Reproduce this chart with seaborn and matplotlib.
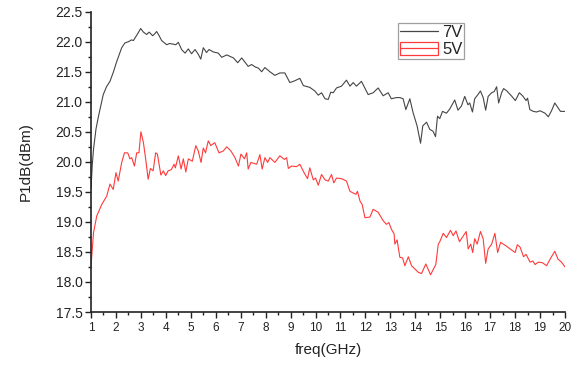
import numpy as np
import pandas as pd
import matplotlib
matplotlib.use("Agg")
import matplotlib.pyplot as plt
import seaborn as sns
from matplotlib.ticker import MultipleLocator
from matplotlib.patches import Patch
from matplotlib.lines import Line2D

# ---- data ----
freq_7v = [1.00, 1.05, 1.10, 1.20, 1.30, 1.49, 1.62, 1.76, 1.90, 2.03, 2.23, 2.36, 2.50, 2.62, 2.70,
           2.76, 2.88, 2.99, 3.10, 3.23, 3.33, 3.47, 3.55, 3.63, 3.73, 3.83, 4.03, 4.15, 4.29, 4.40,
           4.50, 4.63, 4.77, 4.90, 5.03, 5.17, 5.30, 5.40, 5.50, 5.63, 5.73, 5.90, 6.10, 6.24, 6.44,
           6.71, 6.88, 7.04, 7.17, 7.30, 7.44, 7.58, 7.71, 7.84, 7.97, 8.17, 8.37, 8.57, 8.77, 8.97,
           9.17, 9.37, 9.51, 9.77, 9.97, 10.11, 10.24, 10.38, 10.51, 10.61, 10.71, 10.84, 11.04, 11.24,
           11.38, 11.51, 11.64, 11.84, 12.11, 12.31, 12.51, 12.71, 12.91, 13.04, 13.24, 13.38, 13.51,
           13.62, 13.78, 13.91, 14.07, 14.21, 14.30, 14.45, 14.58, 14.71, 14.81, 14.89, 14.98, 15.09,
           15.25, 15.38, 15.58, 15.71, 15.85, 15.98, 16.11, 16.18, 16.29, 16.38, 16.51, 16.61, 16.72,
           16.82, 16.92, 17.06, 17.16, 17.26, 17.34, 17.46, 17.54, 17.67, 17.87, 18.01, 18.17, 18.30,
           18.44, 18.50, 18.59, 18.73, 18.86, 19.00, 19.20, 19.33, 19.46, 19.59, 19.72, 19.82, 20.00]
p1db_7v = [19.55, 19.95, 20.21, 20.55, 20.76, 21.12, 21.25, 21.34, 21.50, 21.67, 21.90, 21.98, 22.00, 22.03, 22.02,
           22.06, 22.14, 22.22, 22.16, 22.12, 22.16, 22.10, 22.13, 22.17, 22.10, 22.02, 21.95, 21.97, 21.96, 21.95,
           21.99, 21.87, 21.81, 21.88, 21.80, 21.87, 21.79, 21.71, 21.90, 21.82, 21.87, 21.83, 21.81, 21.74, 21.78,
           21.73, 21.65, 21.73, 21.66, 21.59, 21.62, 21.58, 21.56, 21.50, 21.57, 21.50, 21.44, 21.48, 21.48, 21.32,
           21.35, 21.39, 21.27, 21.24, 21.18, 21.11, 21.15, 21.05, 21.04, 21.16, 21.15, 21.23, 21.26, 21.36,
           21.26, 21.32, 21.26, 21.34, 21.12, 21.15, 21.23, 21.10, 21.15, 21.05, 21.07, 21.07, 21.05,
           20.87, 21.05, 20.82, 20.60, 20.31, 20.60, 20.66, 20.54, 20.51, 20.42, 20.76, 20.72, 20.84,
           20.81, 20.88, 21.03, 20.86, 20.93, 21.09, 20.95, 20.98, 20.83, 21.05, 21.12, 21.18, 21.07,
           20.86, 21.09, 21.15, 21.17, 21.25, 20.98, 21.15, 21.22, 21.18, 21.09, 21.02, 21.15, 21.10,
           21.02, 21.06, 20.87, 20.84, 20.83, 20.85, 20.81, 20.75, 20.85, 20.98, 20.90, 20.84, 20.84]

freq_5v = [1.00, 1.05, 1.10, 1.23, 1.43, 1.63, 1.76, 1.89, 2.00, 2.09, 2.23, 2.34, 2.47, 2.56, 2.63,
           2.74, 2.83, 2.92, 3.00, 3.10, 3.19, 3.29, 3.38, 3.49, 3.59, 3.66, 3.80, 3.90, 3.99, 4.09,
           4.22, 4.33, 4.38, 4.50, 4.61, 4.70, 4.80, 4.90, 5.06, 5.20, 5.30, 5.41, 5.50, 5.59, 5.70,
           5.80, 5.96, 6.13, 6.30, 6.44, 6.61, 6.77, 6.91, 7.01, 7.15, 7.24, 7.30, 7.41, 7.64, 7.77,
           7.86, 7.97, 8.08, 8.17, 8.37, 8.57, 8.75, 8.84, 8.91, 9.04, 9.24, 9.37, 9.54, 9.68, 9.77,
           9.91, 10.00, 10.11, 10.24, 10.38, 10.51, 10.64, 10.73, 10.84, 11.04, 11.24, 11.38, 11.51,
           11.62, 11.68, 11.78, 11.87, 11.98, 12.18, 12.31, 12.51, 12.71, 12.84, 12.94, 13.04, 13.15,
           13.18, 13.27, 13.38, 13.49, 13.58, 13.72, 13.85, 14.12, 14.25, 14.42, 14.61, 14.82, 14.92,
           14.98, 15.12, 15.25, 15.41, 15.52, 15.63, 15.77, 15.93, 16.04, 16.12, 16.22, 16.30, 16.38,
           16.48, 16.61, 16.72, 16.82, 16.92, 17.06, 17.19, 17.30, 17.42, 17.64, 17.80, 18.00, 18.09,
           18.20, 18.34, 18.44, 18.60, 18.71, 18.80, 18.93, 19.10, 19.26, 19.43, 19.59, 19.72, 19.86, 20.00]
p1db_5v = [18.27, 18.55, 18.82, 19.10, 19.29, 19.43, 19.63, 19.54, 19.82, 19.68, 19.99, 20.15, 20.15, 20.05, 20.07,
           19.93, 20.15, 20.15, 20.50, 20.32, 20.05, 19.71, 19.89, 19.85, 20.15, 20.13, 19.78, 19.85, 19.77, 19.85,
           19.87, 19.96, 19.90, 20.10, 19.88, 20.05, 19.83, 20.05, 20.01, 20.27, 20.18, 19.99, 20.23, 20.15, 20.35,
           20.27, 20.32, 20.15, 20.18, 20.25, 20.18, 20.07, 19.93, 20.13, 20.05, 20.15, 19.88, 19.99, 19.96, 20.12,
           19.88, 20.07, 19.99, 20.07, 19.99, 20.10, 20.04, 20.07, 19.89, 19.93, 19.92, 19.96, 19.82, 19.72, 19.90,
           19.70, 19.73, 19.61, 19.79, 19.70, 19.68, 19.79, 19.65, 19.73, 19.72, 19.68, 19.51, 19.48,
           19.46, 19.51, 19.35, 19.29, 19.07, 19.08, 19.21, 19.16, 19.02, 18.96, 18.99, 18.88, 18.80,
           18.63, 18.70, 18.41, 18.40, 18.27, 18.42, 18.27, 18.16, 18.14, 18.30, 18.12, 18.29, 18.63,
           18.67, 18.81, 18.74, 18.86, 18.77, 18.85, 18.67, 18.77, 18.84, 18.55, 18.63, 18.49, 18.72,
           18.63, 18.84, 18.72, 18.31, 18.55, 18.63, 18.81, 18.49, 18.66, 18.60, 18.55, 18.49, 18.62,
           18.58, 18.42, 18.46, 18.33, 18.35, 18.29, 18.33, 18.32, 18.27, 18.40, 18.51, 18.38, 18.33, 18.25]

x_ticks = list(range(1, 21))
y_ticks = [17.5, 18.0, 18.5, 19.0, 19.5, 20.0, 20.5, 21.0, 21.5, 22.0, 22.5]

df_7v = pd.DataFrame({"freq": freq_7v, "p1db": p1db_7v})
df_5v = pd.DataFrame({"freq": freq_5v, "p1db": p1db_5v})

sns.set_theme(style="white")
plt.rcParams['font.family'] = ['Liberation Sans', 'DejaVu Sans']

fig = plt.figure(figsize=(5.85, 3.65), dpi=100)
ax = fig.add_axes([0.1556, 0.1452, 0.8102, 0.8228])

c7 = '#454545'
c5 = '#ff3a3a'
txt = '#222222'
sns.lineplot(data=df_7v, x="freq", y="p1db", ax=ax, color=c7, lw=0.8,
             estimator=None, sort=False)
sns.lineplot(data=df_5v, x="freq", y="p1db", ax=ax, color=c5, lw=0.8,
             estimator=None, sort=False)

ax.set_xlim(1, 20)
ax.set_ylim(17.5, 22.5)
ax.set_xticks(x_ticks)
ax.set_yticks(y_ticks)
ax.set_yticklabels([f"{v:.1f}" for v in y_ticks])
ax.xaxis.set_minor_locator(MultipleLocator(0.5))
ax.yaxis.set_minor_locator(MultipleLocator(0.25))
ax.tick_params(which='major', direction='out', length=4, width=1, colors=txt,
               bottom=True, left=True)
ax.tick_params(which='minor', direction='out', length=2.5, width=1, colors=txt,
               bottom=True, left=True)
ax.tick_params(axis='x', which='major', labelsize=8.5, pad=3)
ax.tick_params(axis='y', which='major', labelsize=10, pad=2)

sns.despine(ax=ax)
for s in ['left', 'bottom']:
    ax.spines[s].set_color(txt)
    ax.spines[s].set_linewidth(1.2)

ax.set_xlabel("freq(GHz)", fontsize=11, color=txt, labelpad=7)
ax.set_ylabel("P1dB(dBm)", fontsize=11, color=txt, labelpad=16)

handles = [Line2D([0], [0], color=c7, lw=0.9),
           (Patch(facecolor='white', edgecolor=c5, lw=0.9), Line2D([0], [0], color=c5, lw=0.9))]
leg = ax.legend(handles, ["7V", "5V"], loc='upper left', bbox_to_anchor=(0.648, 0.963),
                fontsize=12, frameon=True, fancybox=False, borderpad=0.1,
                handlelength=2.3, handleheight=0.8, handletextpad=0.25, labelspacing=0.15,
                borderaxespad=0)
leg.get_frame().set_edgecolor('#888888')
leg.get_frame().set_linewidth(0.9)

fig.savefig("out.png", dpi=100)
